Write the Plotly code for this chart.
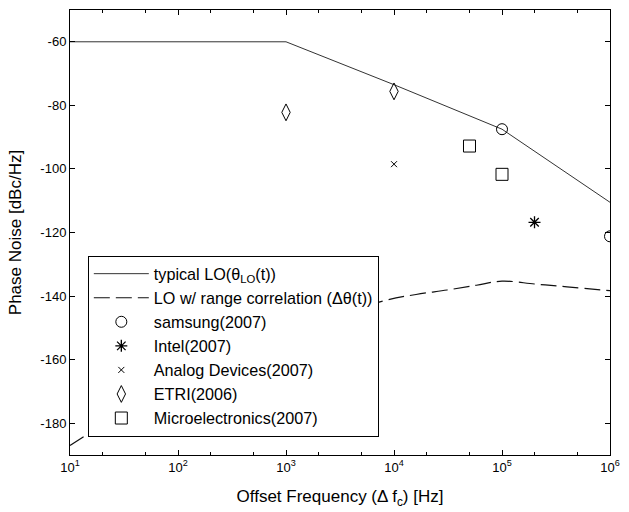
import plotly.graph_objects as go

# typical LO phase noise curve
lo_freq = [10, 1e3, 1e4, 1e5, 1e6]
lo_pn = [-60, -60, -73.5, -87.5, -110.5]

# LO with range correlation (dashed)
corr_freq = [10, 16, 100, 1e3, 8e3, 1.6e4, 3.1e4, 5.8e4, 1e5, 2e5, 4e5, 1e6]
corr_pn = [-187, -182.6, -166, -152, -141.5, -139.5, -138.1, -136.6, -135.3, -136.2, -137.1, -138.3]

samsung_f = [1e5, 1e6]
samsung_pn = [-87.5, -121.2]
intel_f = [2e5]
intel_pn = [-116.8]
adi_f = [1e4]
adi_pn = [-98.5]
etri_f = [1e3, 1e4]
etri_pn = [-82.2, -75.6]
micro_f = [5e4, 1e5]
micro_pn = [-92.8, -101.7]

x_tickvals = [1e1, 1e2, 1e3, 1e4, 1e5, 1e6]
x_ticktext = ["10<sup>1</sup>", "10<sup>2</sup>", "10<sup>3</sup>", "10<sup>4</sup>", "10<sup>5</sup>", "10<sup>6</sup>"]
y_tickvals = [-60, -80, -100, -120, -140, -160, -180]
y_ticktext = ["-60", "-80", "-100", "-120", "-140", "-160", "-180"]

fig = go.Figure()
fig.add_trace(go.Scatter(x=lo_freq, y=lo_pn, mode="lines",
                         line=dict(color="#333333", width=1),
                         name="typical LO(θ<sub>LO</sub>(t))"))
fig.add_trace(go.Scatter(x=corr_freq, y=corr_pn, mode="lines", line_shape="spline",
                         line=dict(color="#111111", width=1.2, dash="16px,6px"),
                         name="LO w/ range correlation (Δθ(t))"))
fig.add_trace(go.Scatter(x=samsung_f, y=samsung_pn, mode="markers", name="samsung(2007)",
                         marker=dict(symbol="circle-open", size=11, color="black", line=dict(width=1))))
fig.add_trace(go.Scatter(x=intel_f, y=intel_pn, mode="markers", name="Intel(2007)",
                         marker=dict(symbol="asterisk-open", size=10, color="black", line=dict(width=1.3, color="black"))))
fig.add_trace(go.Scatter(x=adi_f, y=adi_pn, mode="markers", name="Analog Devices(2007)",
                         marker=dict(symbol="x-thin-open", size=6, color="black", line=dict(width=1, color="black"))))
fig.add_trace(go.Scatter(x=etri_f, y=etri_pn, mode="markers", name="ETRI(2006)",
                         marker=dict(symbol="diamond-tall-open", size=12, color="black", line=dict(width=1))))
fig.add_trace(go.Scatter(x=micro_f, y=micro_pn, mode="markers", name="Microelectronics(2007)",
                         marker=dict(symbol="square-open", size=12, color="black", line=dict(width=1))))

fig.update_layout(
    width=629, height=512,
    margin=dict(l=70, r=14, t=9, b=57),
    paper_bgcolor="white", plot_bgcolor="white",
    font=dict(family="Liberation Sans, Arial, sans-serif", size=13, color="black"),
    showlegend=True,
    legend=dict(x=0.033, y=0.448, xanchor="left", yanchor="top",
                bgcolor="white", bordercolor="black", borderwidth=1,
                font=dict(size=16.2), tracegroupgap=0, itemwidth=55),
)
fig.update_xaxes(type="log", range=[1, 6], tickvals=x_tickvals, ticktext=x_ticktext,
                 ticks="inside", ticklen=5, tickcolor="black", showgrid=False, zeroline=False,
                 showline=True, linecolor="black", linewidth=1, mirror="ticks",
                 minor=dict(ticks="inside", ticklen=3, tickcolor="black", showgrid=False),
                 title=dict(text="Offset Frequency (Δ f<sub>c</sub>) [Hz]", standoff=16,
                            font=dict(size=17)),
                 tickfont=dict(size=13))
fig.update_yaxes(range=[-190, -50], tickvals=y_tickvals, ticktext=y_ticktext,
                 ticks="inside", ticklen=5, tickcolor="black", showgrid=False, zeroline=False,
                 showline=True, linecolor="black", linewidth=1, mirror="ticks",
                 title=dict(text="Phase Noise [dBc/Hz]", standoff=14, font=dict(size=17)),
                 tickfont=dict(size=13))

fig.write_html("out.html")
